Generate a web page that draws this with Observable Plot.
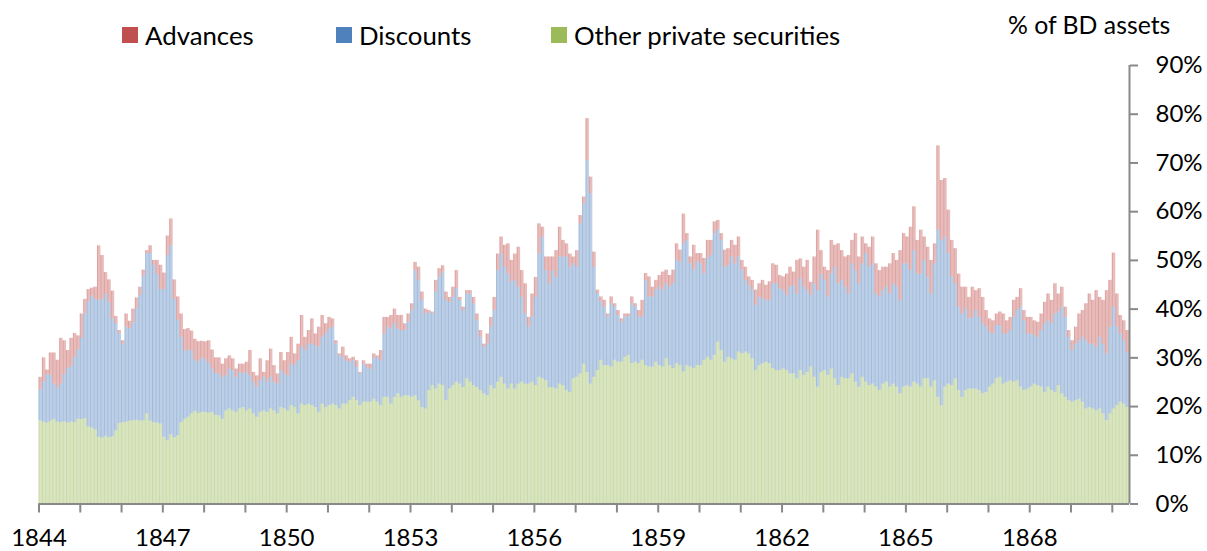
<!DOCTYPE html>
<html><head><meta charset="utf-8">
<script src="https://cdn.jsdelivr.net/npm/d3@7"></script>
<script src="https://cdn.jsdelivr.net/npm/@observablehq/plot@0.6"></script>
<style>
body{margin:0;background:#fff;font-family:Lato,"Open Sans",sans-serif;}
#wrap{position:relative;width:1207px;height:551px;overflow:hidden;}
.leg{position:absolute;font-size:25.8px;line-height:26px;color:#000;display:flex;align-items:center;white-space:nowrap;}
.sw{width:16px;height:16px;margin-right:7px;display:inline-block;}
#unit{position:absolute;left:1008px;top:12px;font-size:24.8px;line-height:26px;white-space:nowrap;}
</style></head><body>
<div id="wrap"></div>
<script>
// ---- data (monthly readings, % of Banking Department assets) ----
const startYear = 1844;
const seriesNames = ["Advances", "Discounts", "Other private securities"];
const seriesColors = ["#C0504D", "#4F81BD", "#9BBB59"];
const stackOrder = ["Other private securities", "Discounts", "Advances"];
const axisYears = [1844,1845,1846,1847,1848,1849,1850,1851,1852,1853,1854,1855,1856,1857,1858,1859,1860,1861,1862,1863,1864,1865,1866,1867,1868,1869,1870];
const labelledYears = [1844,1847,1850,1853,1856,1859,1862,1865,1868];
const yTicks = [0,10,20,30,40,50,60,70,80,90];

// top of the stack: advances + discounts + other private securities
const totalPrivate = [
26,30,27.5,31,31,29.5,34,33.5,31.5,34,35,34.5,39,42,44,44.3,44.5,53,51,47.5,46,43.7,38.5,35.6,33.5,39,37.5,40,42.3,44.5,48,52,53,50,50,49,47.4,55,58.5,46,42.5,39,35.8,36,35.5,33.8,33.3,33.4,33.3,33.5,31.6,30,30,
28.7,29.8,30.4,29.8,27.7,28.7,28.7,29.1,31.5,27,26.3,29.8,27,29.4,31.8,28.4,26.7,31.1,29.4,31.1,34.2,30.8,32.8,38.7,34.2,35.6,38,34.9,36.3,38.7,37,38.3,38,33.5,30.8,32.2,30.4,29.8,30.1,29.4,27,29.4,28.7,28.7,30.8,30.4,31.5,38.3,38.3,38.7,40,38.7,38.7,37,
39,41.1,49.6,48.6,43.5,40,39.7,39.4,45.9,48.3,48.9,43.5,42.4,44.5,47.9,42.4,40.4,43.8,43.8,42.4,39,35.6,32.8,34.9,38.3,42.4,51.3,54.8,53.1,53.4,50,51.3,52.7,47.9,45.2,38.3,43.1,46.5,57.5,56.8,50.7,50.7,50.7,52,56.8,54.1,53.4,51.3,50.7,52,59.2,63,79.1,67.1,
51.7,43.9,42.5,41.8,39,42.5,41.1,39.7,38,39,39,42.5,41.1,39.7,41.8,47.3,46.6,44.5,45.9,46.9,47.6,48,46.9,48,53.4,52.1,59.5,55.5,50.7,53.1,51.4,51.4,50.4,54.1,54.1,57.9,58.2,55.5,52.1,52.4,54.1,53.1,54.8,50,48.6,46.6,45.9,43.9,45.2,45.9,44.9,45.6,49.3,49,
46.9,46.6,47.2,48.6,47.6,50,50.3,48.6,50,45.5,50.7,56.2,52,48.6,47.9,54.1,53.1,53.4,52,50.7,51,54.1,55.5,50.7,54.8,53.4,52.7,54.8,49.3,47.9,48.6,48.6,49.3,51.4,50,52,55.5,54.8,56.8,61,54.1,56.2,54.8,52.7,50,53.4,73.5,66.4,66.8,60.3,54.1,52.4,47.2,44.5,
44.5,42.4,44.5,43.8,44.2,42.4,39.7,38,37.6,39,39.4,39,37.6,38.3,41.8,42.4,44.2,39.7,38.3,38.3,37.6,37.3,39,41.4,43.1,41.8,45.2,43.1,44.5,40.4,35.6,33.5,36.3,39,39.7,41.1,43.1,41.8,43.8,42.4,41.8,43.8,45.9,51.5,43.1,38.7,37.6,35.6
];

// top of discounts: discounts + other private securities
const otherPlusDiscounts = [
23.4,25,26.5,26.4,24.6,23.8,24.6,26.6,27.8,28.2,30,31.6,34,39,41.5,42.7,42,41.7,42,43,41.4,38,37,35,32.8,36.3,36,37.2,40,42.8,46.8,51.4,51.4,49,47.1,44,44,51,53,42,37.7,34.2,31.4,31.6,31.4,29.5,29.2,29.9,29.6,28.9,27.7,26.8,26.7,
26,26.3,27.7,27.4,26,27,26.7,27,26.3,25,24,25.3,26,25,26,25,24.6,27.4,26.7,26.3,28.7,28.4,29.4,32.2,31.5,32.8,32.8,32.5,32.2,34.2,34.9,35.9,36.3,32.8,30.4,30.1,29.4,29.1,29.4,28,26.7,28.7,28,27.7,29.8,30.1,29.4,34.9,36.3,35.9,37,35.9,35.6,35.6,
37.3,39.7,47.9,45.9,41.8,39,39.4,39,43.5,46.5,47.6,41.8,41.4,42.4,44.2,41.8,39.7,43.1,43.1,41.1,37.6,34.2,32.2,32.8,36.3,39.7,47.9,51.3,48.6,47.2,45.5,45.9,44.5,42.4,39,36.3,38.3,42.4,51.3,54.8,47.9,45.2,47.9,46.5,50.7,50.7,50.7,48.6,49.3,48.6,57.5,61.6,70.5,63.7,
48.6,43.2,41.5,40.4,38.4,41.1,40.4,38.7,37.3,38.4,38.4,41.1,40.4,38.4,38.4,45.9,42.5,42.5,43.9,44.5,43.9,45.2,44.5,45.2,50,49.7,53.4,54.1,49.3,48,49.7,49.3,47.3,50.4,51,55.5,56.2,54.1,48.6,49,50.7,49.3,50.7,48,45.9,44.9,43.9,40.8,42.5,42.1,41.8,41.8,45.2,45.2,
44.2,43.8,42.8,44.5,44.9,43.1,46.2,44.5,43.8,42.8,45.2,43.8,47.2,45.9,42.5,47.2,48.6,45.2,45.9,44.5,43.1,49.3,47.9,45.2,49.3,51.4,48.6,49.3,43.1,42.5,43.8,44.5,43.1,45.2,44.5,41.8,49.3,49.3,47.9,52,47.2,47.2,50,46.6,43.1,49.3,56.2,54.1,54.8,51.4,46.6,45.2,40.4,39,
40,38,38.3,39.7,38.3,37,36.3,35.2,34.9,36.6,36.6,34.9,34.9,35.6,38.3,39.7,40.4,37.6,34.9,34.9,34.6,34.2,35.6,37,37.6,37,39,39.4,40.4,38.3,34.2,31.5,32.8,33.5,34.2,33.5,32.8,32.8,32.2,34.2,32.8,30.8,36.3,40.4,36.3,34.9,33.5,31.1
];

// other private securities
const otherSecurities = [
17.1,16.8,16.6,17,17.4,16.8,16.7,16.9,16.6,16.8,16.7,17.4,17.3,17.5,15.8,15.6,15.2,13.7,13.5,13.9,13.6,13.8,15,16.5,16.7,16.8,17,17.1,17.2,17,17.1,18.5,17,16.7,16.6,16.4,13.7,13,14.2,13.6,14,16.7,17.4,17.8,18.5,19,18.6,18.8,18.8,18.6,18.8,18.2,18.1,
17.4,19.1,19.5,19.1,18.8,19.5,19.8,19.1,19.5,18.5,17.8,18.8,19.1,18.8,19.5,19.1,18.5,19.8,19.5,19.1,20.2,19.8,18.5,20.5,20.2,20.5,20.2,19.8,18.8,20.5,19.8,20.2,20.5,20.2,19.5,20.5,20.5,21.2,21.9,21.2,20.2,20.9,20.9,20.9,21.5,20.9,20.2,21.9,21.9,20.5,21.9,22.6,21.9,22.2,
22.2,21.9,22.2,21.2,19.8,19.5,23.3,24.3,23.6,24.6,24.3,21.2,23.6,24.3,25,24.6,23.9,25.7,25,24.3,23.9,23.3,22.6,22.2,24.3,23.6,25,26,24.6,23.6,24.6,23.6,24.6,25,24.6,24.6,25,24.3,26,25.7,25.3,23.9,23.9,23.6,24.6,24.3,23.3,22.9,25.7,26,26.7,28.7,27,24.6,
26,27.4,29.5,28.4,28.4,28.1,29.5,29.1,29.1,30.1,30.5,28.8,29.1,28.8,29.5,28.4,28.1,28.1,29.1,28.4,28.1,29.8,28.4,27.8,28.8,28.4,27.1,28.4,28.1,27.8,28.4,28.4,29.5,30.1,29.5,30.5,33.2,31.5,29.1,30.1,29.8,29.5,31.2,30.8,31.2,30.8,29.8,27.4,28.4,28.8,29.1,28.8,27.8,27.4,
27.4,27.7,27.4,26.7,26.7,25.7,27.4,26.4,27,28.1,26,24,27,27.4,26.4,27.7,25.7,24.3,26,25.7,25.7,26.7,25,24,26,25,24.3,24.6,24,23.3,24.6,25,24,24.6,24,22.6,24,24.3,24,25,24.6,24,25.7,25.7,24,25.3,21.9,20.2,24,24.6,24.3,25.7,23.3,21.9,
23.3,23.6,23.6,23.6,23.3,22.6,22.9,24,24.6,25.7,26,24.6,25,25.3,25,25.3,24,23.3,23.6,24,24.6,24.3,24,22.9,24,23.3,22.9,24.3,22.6,21.9,21.2,20.9,21.2,21.5,20.9,19.5,19.8,19.5,19.1,19.5,18.5,17.1,18.5,19.5,20.2,20.9,20.5,19.8
];

// ---- build the long table for stacking ----
const nMonths = totalPrivate.length;
const xEnd = startYear + nMonths / 12;
const table = [];
for (let i = 0; i < nMonths; i++) {
  const x1 = startYear + i / 12, x2 = startYear + (i + 1) / 12;
  const other = otherSecurities[i];
  const disc = Math.max(0, otherPlusDiscounts[i] - otherSecurities[i]);
  const adv = Math.max(0, totalPrivate[i] - otherPlusDiscounts[i]);
  table.push({x1, x2, series: "Other private securities", value: other});
  table.push({x1, x2, series: "Discounts", value: disc});
  table.push({x1, x2, series: "Advances", value: adv});
}

const gray = "#898989";
const chart = Plot.plot({
  width: 1207, height: 551,
  marginLeft: 38.5, marginRight: 78, marginTop: 65, marginBottom: 47.5,
  style: {fontFamily: "Lato, 'Open Sans', sans-serif", fontSize: "24px", background: "white", color: "black", overflow: "visible"},
  x: {type: "linear", domain: [startYear, xEnd], axis: null},
  y: {domain: [0, 90], axis: null},
  color: {domain: seriesNames, range: seriesColors},
  marks: [
    Plot.rectY(table, {x1: "x1", x2: "x2", y: "value", fill: "series", fillOpacity: 0.38, order: stackOrder}),
    Plot.ruleX(table, Plot.stackY({x: "x1", y: "value", z: "series", stroke: "series", strokeOpacity: 0.3, strokeWidth: 0.8, order: stackOrder})),
    Plot.ruleY([0], {stroke: gray, strokeWidth: 2}),
    Plot.ruleX([xEnd], {y1: 0, y2: yTicks[yTicks.length - 1], stroke: gray, strokeWidth: 2}),
    Plot.axisX({ticks: axisYears, tickSize: 9, tickPadding: 16, stroke: gray, strokeWidth: 2, fill: "black", fontSize: 24,
      label: null, tickFormat: d => labelledYears.includes(d) ? String(d) : ""}),
    Plot.axisY({anchor: "right", ticks: yTicks, tickSize: 8, tickPadding: 18, stroke: gray, strokeWidth: 2, fill: "black", fontSize: 24,
      label: null, tickFormat: d => d + "%"})
  ]
});

const wrap = document.getElementById("wrap");
wrap.appendChild(chart);

// legend + unit label (HTML, overlaid in the top margin)
const legendX = [122, 336, 551];
seriesNames.forEach((name, i) => {
  const item = document.createElement("div");
  item.className = "leg";
  item.style.left = legendX[i] + "px";
  item.style.top = "22px";
  const sw = document.createElement("span");
  sw.className = "sw";
  sw.style.background = seriesColors[i];
  item.appendChild(sw);
  item.appendChild(document.createTextNode(name));
  wrap.appendChild(item);
});
const unit = document.createElement("div");
unit.id = "unit";
unit.textContent = "% of BD assets";
wrap.appendChild(unit);
</script>
</body></html>
